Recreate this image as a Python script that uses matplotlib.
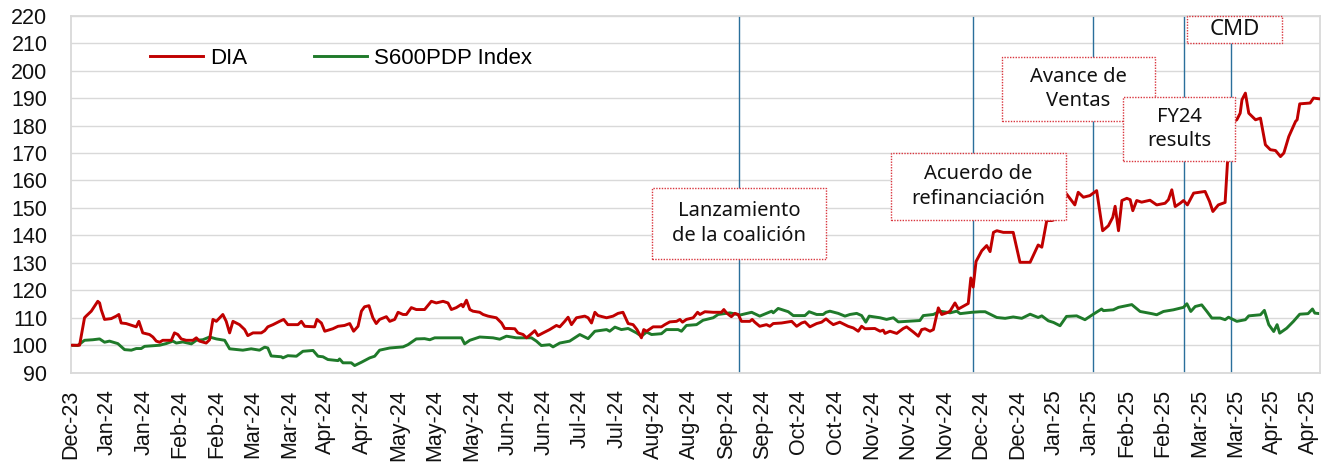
import pandas as pd
import matplotlib
matplotlib.use("Agg")
import matplotlib.pyplot as plt
from matplotlib.patches import Rectangle

# days since 2023-12-29 and rebased value (100 = start)
dia_day = [0.1, 3.3, 5.2, 5.8, 7.8, 10.3, 11.0, 11.6, 12.9, 15.5, 17.4, 18.4, 19.3, 21.2, 25.1,
           26.1, 27.6, 30.2, 31.5, 32.8, 34.1, 35.3, 38.6, 39.8, 41.1, 42.4, 44.3, 46.9, 48.2,
           49.4, 52.0, 53.3, 54.6, 55.9, 58.4, 59.7, 61.0, 62.3, 64.8, 66.8, 68.0, 70.0, 73.2,
           74.5, 75.7, 77.7, 80.2, 81.8, 83.4, 87.3, 88.6, 89.9, 93.7, 94.6, 96.3, 97.6, 100.7,
           102.7, 105.2, 107.2, 108.7, 110.4, 111.7, 112.9, 114.6, 116.1, 117.4, 118.7, 121.3,
           122.6, 124.5, 125.8, 127.7, 129.0, 130.9, 132.8, 136.0, 138.6, 140.5, 143.1, 145.0,
           146.3, 148.2, 150.2, 150.8, 152.1, 153.4, 154.6, 157.2, 158.5, 160.4, 163.6, 165.6,
           166.8, 168.7, 170.7, 171.9, 173.9, 175.2, 177.1, 178.4, 179.6, 181.6, 184.1, 186.7,
           188.0, 189.9, 191.2, 192.5, 194.4, 197.6, 198.9, 200.2, 201.5, 202.7, 206.0, 208.5,
           210.4, 212.3, 214.3, 216.2, 217.7, 219.4, 220.3, 221.4, 223.9, 227.1, 228.4, 230.3,
           232.9, 234.2, 235.2, 236.7, 239.3, 241.0, 241.9, 243.8, 247.0, 250.2, 251.1, 252.1,
           253.4, 254.0, 255.3, 256.6, 257.9, 261.1, 262.0, 263.0, 264.9, 267.5, 268.8, 270.1,
           273.3, 277.2, 279.1, 281.0, 282.3, 284.2, 286.8, 288.7, 290.4, 291.9, 293.2, 295.7,
           298.9, 300.9, 302.8, 304.1, 305.4, 309.2, 311.2, 312.4, 313.1, 315.0, 317.6, 320.1,
           321.4, 324.0, 325.9, 327.2, 328.5, 330.4, 331.7, 333.6, 334.9, 336.8, 338.1, 340.0,
           341.3, 345.1, 346.1, 347.0, 348.1, 350.3, 352.2, 353.5, 354.8, 356.1, 358.6, 362.4,
           365.0, 368.9, 372.0, 373.4, 375.3, 377.2, 379.1, 380.4, 382.9, 386.1, 387.4, 389.4,
           391.9, 394.5, 396.8, 399.0, 400.7, 401.6, 402.9, 404.2, 406.1, 407.4, 408.4, 409.9,
           411.8, 415.0, 417.6, 420.8, 422.1, 423.4, 424.7, 426.6, 427.9, 429.4, 431.8, 436.2,
           437.9, 439.2, 441.3, 443.9, 444.8, 446.2, 448.4, 449.7, 450.4, 451.7, 453.0, 455.6,
           457.5, 459.4, 461.3, 463.3, 465.2, 466.5, 468.4, 471.0, 471.6, 472.6, 476.6, 477.9,
           480.4]
dia_val = [100, 100, 110, 110.6, 112.4, 116, 115.4, 113, 109.4, 109.7, 110.6, 111.2, 108.1, 107.9, 106.7,
           108.7, 104.5, 103.9, 103, 101.5, 101.1, 101.8, 101.8, 104.5, 103.9, 102.3, 101.8, 101.8, 102.7,
           101.5, 100.8, 102, 109.4, 108.7, 111.2, 108.7, 104.5, 108.7, 107.5, 105.7, 103.5, 104.5, 104.5,
           105.3, 106.7, 107.5, 108.7, 109.4, 107.5, 107.5, 108.7, 106.9, 106.7, 109.4, 108.1, 105.1, 106,
           106.9, 107.2, 107.9, 105.1, 106.9, 112.4, 114, 114.4, 110, 107.9, 109.4, 110.4,
           108.7, 109.4, 112, 111.2, 111.2, 113.7, 113, 113, 116, 115.4, 116, 115.4,
           113, 113.7, 114.9, 114, 116.4, 113, 112.4, 112, 111.2, 110.6, 110, 108.1,
           106.1, 106.1, 106, 104.5, 103.9, 102.7, 104.2, 105.3, 103.5, 104.5, 105.7, 107.2,
           106.7, 108.7, 110.2, 107.5, 110, 110.6, 110, 108.1, 112, 110.8, 110, 110.6,
           111.6, 112, 107.9, 107.5, 105.7, 102.7, 105.7, 105.1, 106.7, 106.7, 107.5, 108.5,
           108.7, 109.4, 108.4, 109.4, 110, 112, 111.2, 112.2, 112, 112, 113, 111.8,
           110.8, 110.4, 111.6, 111.2, 108.7, 108.7, 109.4, 108.4, 106.9, 107.5, 106.9, 107.9,
           108.1, 108.7, 106.9, 108.1, 108.5, 106.7, 107.9, 108.4, 109.6, 108.4, 107.5, 108.4,
           106.9, 106.3, 105.1, 106.9, 106, 106.1, 105.1, 105.5, 104.3, 105.1, 104.3, 106.1,
           106.7, 104.8, 103.3, 105.7, 106, 105.1, 105.7, 113.6, 111.2, 111.8, 112.4, 115.4,
           113.2, 115.2, 124.5, 121.2, 130.5, 134.4, 136.3, 134.1, 141.1, 141.7, 141.1, 141.1,
           130.2, 130.2, 136.5, 135.7, 145.4, 145.4, 146, 150, 155.1, 151.1, 155.7, 153.9,
           154.5, 156.3, 141.7, 143.5, 146.6, 150.6, 141.7, 152.7, 153.5, 153, 149, 152.7,
           152.1, 152.8, 151.1, 151.7, 153, 156.6, 150.5, 151.7, 152.7, 151.1, 155.4, 156,
           152.4, 148.7, 151.1, 152, 166.3, 181, 182.1, 184.5, 189.4, 191.8, 184.5, 182.1,
           182.7, 173, 171.2, 170.9, 168.7, 170, 176, 181.5, 182.1, 187.9, 188.2, 190,
           189.7]

s600_day = [0.1, 2.6, 5.2, 8.4, 11.0, 12.9, 14.8, 18.0, 20.6, 23.2, 25.1, 27.0, 28.3, 34.1, 36.6,
            39.2, 40.5, 43.0, 46.3, 48.2, 50.7, 53.3, 55.9, 59.1, 61.0, 66.1, 69.3, 72.5, 74.5,
            75.7, 77.0, 80.9, 81.5, 83.4, 86.7, 89.2, 93.1, 95.0, 96.9, 98.8, 102.7, 103.3, 104.6,
            107.8, 109.1, 111.7, 114.9, 116.8, 118.7, 122.6, 127.7, 129.6, 132.8, 136.0, 138.0,
            139.9, 144.4, 150.2, 151.4, 153.4, 157.2, 162.3, 164.9, 167.5, 171.3, 177.1, 179.0,
            180.9, 184.1, 185.4, 188.0, 191.8, 195.7, 198.9, 201.5, 206.0, 207.2, 209.2, 211.7,
            214.3, 217.5, 219.4, 221.4, 223.3, 227.1, 229.0, 233.5, 234.8, 236.7, 240.6, 243.1,
            247.0, 248.9, 253.4, 257.3, 261.8, 264.9, 269.5, 270.1, 272.0, 275.9, 277.8, 282.3,
            283.9, 286.8, 289.3, 290.4, 291.9, 295.1, 297.7, 299.6, 302.2, 304.1, 305.7, 307.0,
            311.2, 313.7, 316.3, 318.2, 321.4, 326.5, 327.8, 331.7, 334.2, 338.1, 340.7, 342.0,
            346.5, 349.7, 351.6, 356.1, 359.3, 362.4, 365.7, 368.9, 372.0, 373.4, 375.9, 377.9,
            380.4, 382.9, 386.8, 390.0, 393.2, 396.4, 397.1, 400.9, 402.9, 408.0, 411.2, 415.7,
            417.6, 420.2, 424.0, 427.9, 429.2, 430.7, 432.4, 434.9, 436.9, 438.8, 442.0, 443.9,
            445.2, 448.4, 451.7, 453.0, 457.5, 459.0, 460.7, 462.6, 463.9, 464.9, 467.6, 470.2,
            472.6, 475.8, 477.5, 478.4, 480.4]
s600_val = [100, 99.9, 101.8, 102, 102.3, 101.1, 101.5, 100.6, 98.4, 98.2, 98.8, 98.8, 99.6, 100, 100.6,
            101.5, 100.8, 101.2, 100.5, 101.8, 102, 103, 102.3, 101.8, 98.7, 98.2, 98.7, 98.2, 99.3,
            99, 96.1, 95.8, 95.4, 96.2, 96, 97.8, 98.1, 96, 95.8, 94.8, 94.4, 95, 93.6,
            93.6, 92.6, 93.8, 95.4, 96, 98.2, 99, 99.4, 100.2, 102.3, 102.4, 102,
            102.7, 102.7, 102.7, 100.5, 101.8, 103, 102.7, 102.2, 103.3, 102.7, 102.7, 101.5,
            99.9, 100.2, 99.4, 100.8, 101.5, 103.9, 102.4, 105.1, 105.7, 105.1, 106.6, 105.7,
            106.1, 104.5, 103.3, 104.8, 103.9, 104.2, 105.7, 105.7, 105.1, 107.2, 107.5, 109.1,
            110, 111.2, 111.8, 111, 112, 110.6, 112.4, 111.8, 113.4, 112.2, 110.8, 110.8,
            112.2, 111.2, 111.2, 112, 112.4, 111.6, 110.6, 111.2, 111.6, 110.8, 108.4, 110.6,
            110, 109.4, 110, 108.5, 108.7, 109, 110.8, 111.2, 112.4, 111.8, 112.4, 111.5,
            112, 112.2, 112.2, 110.1, 109.8, 110.3, 109.8, 111.3, 110.1, 110.7, 108.9, 108.3,
            107.1, 110.5, 110.7, 109.3, 111.3, 113.2, 112.6, 112.9, 113.8, 114.8, 112.3, 111.5,
            111.1, 112.3, 112.9, 113.8, 115.1, 112.3, 114.1, 114.7, 112.3, 109.9, 109.9, 109.3,
            110.2, 108.7, 109.3, 110.7, 111.1, 112.7, 107.5, 105, 107.5, 104.4, 106.2, 108.7,
            111.3, 111.5, 113.2, 111.7, 111.5]

event_dates = ["2024-09-11", "2024-12-10", "2025-01-25", "2025-03-01", "2025-03-19"]
event_labels = ["Lanzamiento\nde la coalición", "Acuerdo de\nrefinanciación",
                "Avance de\nVentas", "FY24\nresults", "CMD"]
event_fontsize = [14.5, 14.5, 14.5, 14.5, 16]
# label boxes in figure pixels: x0, y0 (top), x1, y1 (bottom)
event_boxes = [(652, 188, 826, 259), (891, 153, 1066, 220), (1002, 57, 1155, 121),
               (1123, 97, 1235, 161), (1187, 16, 1282, 43)]

start = pd.Timestamp("2023-12-29")
dia_x = start + pd.to_timedelta(dia_day, unit="D")
s600_x = start + pd.to_timedelta(s600_day, unit="D")
ticks = pd.date_range(start, periods=35, freq="14D")

W, H = 1330, 466
AX_L, AX_R, AX_T, AX_B = 71, 1320, 15.7, 372.7

plt.rcParams["font.family"] = ["Liberation Sans", "DejaVu Sans"]
fig = plt.figure(figsize=(W / 100, H / 100), dpi=100)
ax = fig.add_axes([AX_L / W, 1 - AX_B / H, (AX_R - AX_L) / W, (AX_B - AX_T) / H])

for d in event_dates:
    ax.axvline(pd.Timestamp(d), color="#2a6f9b", lw=1.0, zorder=1)

ax.plot(dia_x, dia_val, color="#c00000", lw=2.1, label="DIA", zorder=3)
ax.plot(s600_x, s600_val, color="#1f7a2a", lw=2.1, label="S600PDP Index", zorder=2)

ax.set_ylim(90, 220)
ax.set_yticks(range(90, 221, 10))
ax.set_xlim(start, dia_x[-1])
ax.set_xticks(ticks)
ax.set_xticklabels([t.strftime("%b-%y") for t in ticks], rotation=90)
ax.tick_params(axis="both", length=0, labelsize=15.5, colors="#111111")
ax.tick_params(axis="y", pad=17)
ax.tick_params(axis="x", pad=12)
ax.grid(axis="y", color="#d9d9d9", lw=1.0)
ax.set_axisbelow(True)
for sp in ax.spines.values():
    sp.set_color("#d9d9d9")
    sp.set_linewidth(1.3)

leg = ax.legend(loc="center left", bbox_to_anchor=((150 - AX_L) / (AX_R - AX_L), (AX_B - 58) / (AX_B - AX_T)),
                ncol=2, frameon=False, fontsize=16, handlelength=2.4, handletextpad=0.3,
                columnspacing=3.0, borderpad=0, borderaxespad=0)


def to_ax(px, py):
    return (px - AX_L) / (AX_R - AX_L), (AX_B - py) / (AX_B - AX_T)


for (x0, y0, x1, y1), txt, fs in zip(event_boxes, event_labels, event_fontsize):
    ax0, ay1 = to_ax(x0, y1)
    ax1, ay0 = to_ax(x1, y0)
    ax.add_patch(Rectangle((ax0, ay1), ax1 - ax0, ay0 - ay1, transform=ax.transAxes,
                           facecolor="white", edgecolor="#d9363e", lw=1.0,
                           linestyle=(0, (1, 1)), zorder=5, clip_on=False))
    ax.text((ax0 + ax1) / 2, (ay0 + ay1) / 2, txt, transform=ax.transAxes, ha="center",
            va="center", fontsize=fs, family=["Noto Sans", "DejaVu Sans"],
            linespacing=1.3, color="#111111", zorder=6)

fig.savefig("out.png", dpi=100)
